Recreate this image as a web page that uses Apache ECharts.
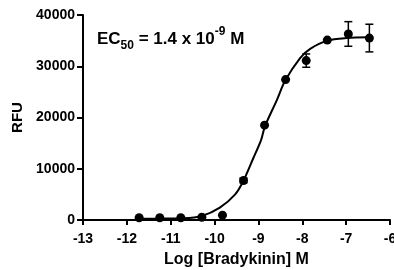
<!DOCTYPE html>
<html>
<head>
<meta charset="utf-8">
<script src="https://cdn.jsdelivr.net/npm/echarts@6/dist/echarts.min.js"></script>
<style>
  html, body { margin: 0; padding: 0; background: #fff; }
  #chart { width: 394px; height: 270px; }
</style>
</head>
<body>
<div id="chart"></div>
<script>
// log concentration of bradykinin (M) and mean RFU
const logConc = [-11.72, -11.25, -10.77, -10.29, -9.82, -9.34, -8.86, -8.38, -7.91, -7.43, -6.95, -6.47];
const rfu = [450, 450, 450, 530, 950, 7700, 18500, 27400, 31100, 35100, 36300, 35500];
const sem = [0, 0, 0, 0, 0, 450, 0, 0, 1300, 0, 2400, 2700];

// fitted curve
const fitX = [-11.72, -11.25, -10.71, -10.29, -9.88, -9.53, -9.35, -9.12, -8.94, -8.85, -8.58, -8.39, -8.05, -7.82, -7.43, -6.99, -6.47];
const fitY = [250, 270, 330, 780, 2400, 5000, 7500, 12000, 15600, 18300, 23400, 27200, 31600, 33400, 35000, 35500, 35640];

const xTicks = [-13, -12, -11, -10, -9, -8, -7, -6];
const yTicks = [0, 10000, 20000, 30000, 40000];

const font = 'Arial, "Liberation Sans", sans-serif';

const chart = echarts.init(document.getElementById('chart'), null, { renderer: 'canvas' });

const option = {
  backgroundColor: '#ffffff',
  animation: false,
  grid: { left: 83, right: 4, top: 15, bottom: 50, containLabel: false, outerBoundsMode: 'none' },
  xAxis: {
    type: 'value',
    min: xTicks[0],
    max: xTicks[xTicks.length - 1],
    interval: 1,
    name: 'Log [Bradykinin] M',
    nameLocation: 'middle',
    nameGap: 32,
    nameTextStyle: { color: '#000', fontFamily: font, fontWeight: 'bold', fontSize: 16 },
    axisLine: { onZero: false, lineStyle: { color: '#000', width: 2 } },
    axisTick: { length: 5, lineStyle: { color: '#000', width: 2 } },
    axisLabel: { color: '#000', fontFamily: font, fontWeight: 'bold', fontSize: 14, margin: 12 },
    splitLine: { show: false }
  },
  yAxis: {
    type: 'value',
    min: yTicks[0],
    max: yTicks[yTicks.length - 1],
    interval: 10000,
    name: 'RFU',
    nameLocation: 'middle',
    nameGap: 57,
    nameRotate: 90,
    nameTextStyle: { color: '#000', fontFamily: font, fontWeight: 'bold', fontSize: 15 },
    axisLine: { show: true, lineStyle: { color: '#000', width: 2 } },
    axisTick: { show: true, length: 6, lineStyle: { color: '#000', width: 2 } },
    axisLabel: {
      color: '#000', fontFamily: font, fontWeight: 'bold', fontSize: 14, margin: 8,
      formatter: v => String(v)
    },
    splitLine: { show: false }
  },
  series: [
    {
      name: 'fit',
      type: 'line',
      data: fitX.map((x, i) => [x, fitY[i]]),
      smooth: 0.3,
      showSymbol: false,
      lineStyle: { color: '#000', width: 2 },
      z: 2
    },
    {
      name: 'sem',
      type: 'custom',
      data: logConc.map((x, i) => [x, rfu[i] - sem[i], rfu[i] + sem[i]]),
      renderItem: function (params, api) {
        const lo = api.coord([api.value(0), api.value(1)]);
        const hi = api.coord([api.value(0), api.value(2)]);
        if (Math.abs(lo[1] - hi[1]) < 1) return null;
        const w = 4;
        const style = { stroke: '#000', lineWidth: 1.5 };
        return {
          type: 'group',
          children: [
            { type: 'line', shape: { x1: lo[0], y1: lo[1], x2: hi[0], y2: hi[1] }, style },
            { type: 'line', shape: { x1: lo[0] - w, y1: lo[1], x2: lo[0] + w, y2: lo[1] }, style },
            { type: 'line', shape: { x1: hi[0] - w, y1: hi[1], x2: hi[0] + w, y2: hi[1] }, style }
          ]
        };
      },
      z: 3
    },
    {
      name: 'mean',
      type: 'scatter',
      data: logConc.map((x, i) => [x, rfu[i]]),
      symbol: 'circle',
      symbolSize: 9,
      itemStyle: { color: '#000', opacity: 1 },
      z: 4
    }
  ],
  graphic: [
    {
      type: 'text',
      left: 97,
      top: 26,
      style: {
        text: '{b|EC}{sub|50}{b| = 1.4 x 10}{sup|-9}{b| M}',
        rich: {
          b: { fontFamily: font, fontWeight: 'bold', fontSize: 17, fill: '#000', verticalAlign: 'bottom', lineHeight: 22 },
          sub: { fontFamily: font, fontWeight: 'bold', fontSize: 12, fill: '#000', verticalAlign: 'bottom', lineHeight: 15, padding: [0, 0, -4, 0] },
          sup: { fontFamily: font, fontWeight: 'bold', fontSize: 12, fill: '#000', verticalAlign: 'top', lineHeight: 15, padding: [0, 0, 9, 0] }
        }
      }
    }
  ]
};

chart.setOption(option);
</script>
</body>
</html>
